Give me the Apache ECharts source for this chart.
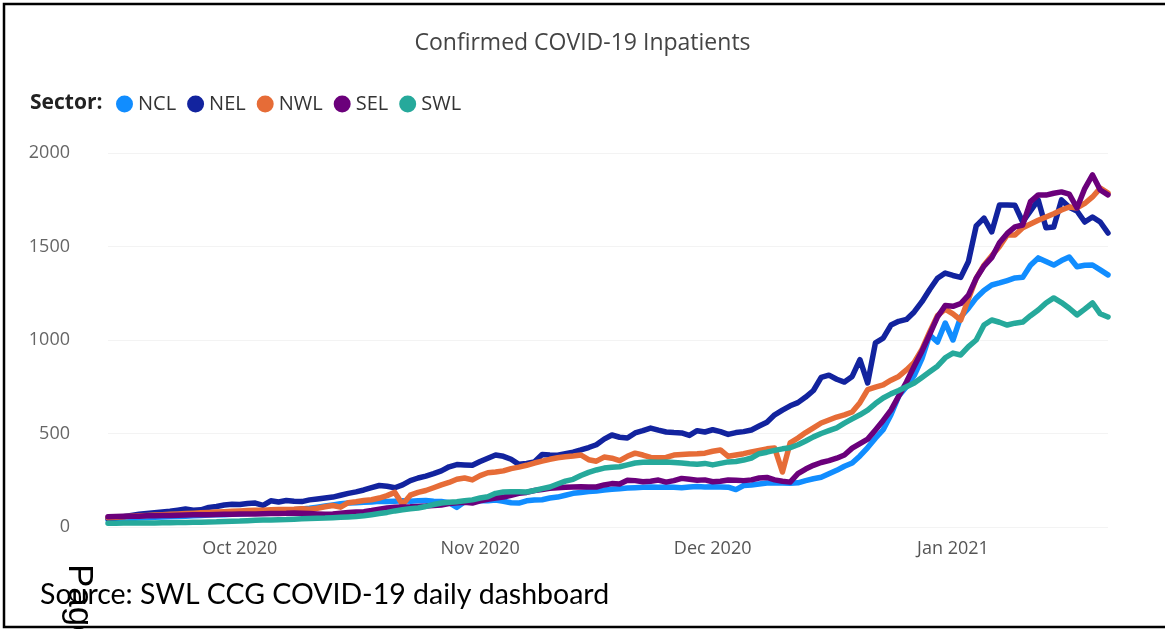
<!DOCTYPE html>
<html>
<head>
<meta charset="utf-8">
<script src="https://cdn.jsdelivr.net/npm/echarts@6/dist/echarts.min.js"></script>
<style>
html,body{margin:0;padding:0;background:#fff;}
#chart{width:1165px;height:629px;}
</style>
</head>
<body>
<div id="chart"></div>
<script>
// ---- Data (daily, starting 14 Sep 2020) ----
const startDate = '2020-09-14';
const sectors = ['NCL', 'NEL', 'NWL', 'SEL', 'SWL'];
const NCL = [40,42,44,46,48,50,52,53,55,56,
  58,60,62,64,65,66,68,70,72,75,
  78,80,84,88,92,96,100,106,112,118,
  124,128,130,132,134,138,136,138,140,138,
  140,142,138,136,130,105,135,140,142,140,
  144,138,130,128,140,144,146,155,160,170,
  180,185,190,193,198,202,205,208,210,212,
  214,212,214,212,210,214,216,214,215,214,
  213,200,222,225,230,235,236,235,234,236,
  248,258,266,285,303,325,342,380,425,475,
  520,600,700,750,810,900,1027,989,1091,1000,
  1123,1170,1225,1265,1294,1305,1318,1332,1335,1400,
  1439,1420,1401,1425,1444,1392,1400,1401,1375,1348];
const NEL = [45,50,55,62,68,72,76,80,84,90,
  96,90,92,105,110,118,122,120,126,128,
  116,140,134,142,138,136,145,150,155,160,
  170,180,188,198,210,222,218,210,225,248,
  262,272,285,300,322,334,332,330,350,368,
  385,378,362,335,340,348,388,385,384,392,
  400,412,425,440,470,492,480,476,503,515,
  529,518,508,505,503,490,515,508,520,510,
  495,505,510,519,540,560,600,625,648,665,
  695,730,800,812,790,775,805,895,770,985,
  1010,1080,1100,1110,1150,1205,1270,1330,1358,1345,
  1335,1420,1610,1652,1578,1722,1722,1720,1631,1690,
  1749,1600,1604,1749,1710,1690,1631,1658,1631,1572];
const NWL = [50,52,55,58,60,62,64,66,68,70,
  72,74,76,78,80,82,84,86,88,90,
  90,92,94,93,95,98,95,100,108,115,
  106,130,135,142,146,155,168,185,120,170,
  185,195,210,225,238,255,262,252,275,290,
  294,300,312,320,330,342,352,362,370,376,
  380,385,360,352,374,368,355,378,395,385,
  372,370,372,385,388,390,392,395,405,412,
  378,385,392,402,410,418,422,294,450,476,
  505,530,556,572,588,600,615,665,735,748,
  760,785,805,840,880,950,1043,1130,1165,1140,
  1107,1220,1330,1400,1450,1500,1562,1562,1600,1620,
  1640,1658,1675,1695,1711,1706,1730,1765,1812,1786];
const SEL = [55,56,57,58,58,60,60,62,62,63,
  64,65,65,66,67,68,68,70,70,70,
  71,72,72,73,75,74,72,70,68,70,
  74,78,80,82,88,95,102,105,107,108,
  110,112,115,118,125,130,132,128,140,148,
  155,160,170,180,185,195,200,207,210,212,
  214,215,214,214,225,232,230,250,248,242,
  245,251,240,248,260,255,250,252,242,245,
  251,250,248,252,262,265,252,245,240,285,
  310,330,345,355,368,385,422,446,470,519,
  570,625,700,775,860,940,1030,1123,1185,1180,
  1195,1240,1330,1395,1440,1520,1570,1605,1615,1740,
  1776,1775,1785,1792,1780,1706,1810,1883,1802,1776];
const SWL = [20,20,21,21,22,22,22,23,23,24,
  24,25,26,27,28,30,31,32,34,36,
  37,38,39,40,42,44,46,47,48,50,
  52,54,56,60,66,72,78,86,92,98,
  102,110,120,128,132,135,140,145,155,162,
  180,187,188,188,187,195,205,214,230,245,
  255,275,292,305,315,320,322,332,342,346,
  348,346,348,345,342,338,335,340,332,340,
  348,350,358,369,392,400,410,418,424,440,
  460,482,500,515,530,555,578,600,625,660,
  690,712,730,750,770,800,830,860,905,930,
  920,965,1000,1080,1107,1095,1080,1090,1096,1130,
  1160,1198,1225,1200,1170,1134,1165,1198,1140,1123];
const tickDates = ['2020-10-01', '2020-11-01', '2020-12-01', '2021-01-01'];
const tickLabels = ['Oct 2020', 'Nov 2020', 'Dec 2020', 'Jan 2021'];
const yTicks = [0, 500, 1000, 1500, 2000];
const colors = ['#118DFF', '#12239E', '#E66C37', '#6B007B', '#26A99B'];

// ---- Build categories ----
const dates = [];
(function () {
  const d0 = new Date(startDate + 'T00:00:00Z');
  for (let i = 0; i < NCL.length; i++) {
    const d = new Date(d0.getTime() + i * 86400000);
    dates.push(d.toISOString().slice(0, 10));
  }
})();
const seriesData = [NCL, NEL, NWL, SEL, SWL];

const chart = echarts.init(document.getElementById('chart'), null, {renderer: 'canvas'});
const option = {
  animation: false,
  backgroundColor: '#ffffff',
  color: colors,
  title: {
    text: 'Confirmed COVID-19 Inpatients',
    left: 'center',
    top: 27,
    textStyle: {fontFamily: 'Open Sans', fontSize: 23, fontWeight: 'normal', color: '#444'}
  },
  legend: {
    data: sectors,
    left: 116,
    top: 94,
    padding: 0,
    icon: 'circle',
    itemWidth: 17,
    itemHeight: 17,
    itemGap: 11,
    textStyle: {fontFamily: 'Open Sans', fontSize: 20, color: '#333'}
  },
  grid: {left: 108, right: 57, top: 153, bottom: 102, containLabel: false},
  xAxis: {
    type: 'category',
    data: dates,
    boundaryGap: false,
    axisLine: {show: false},
    axisTick: {show: false},
    splitLine: {show: false},
    axisLabel: {
      interval: function (idx, val) { return tickDates.indexOf(val) >= 0; },
      formatter: function (val) { const k = tickDates.indexOf(val); return k >= 0 ? tickLabels[k] : ''; },
      fontFamily: 'Open Sans', fontSize: 18, color: '#555', margin: 13
    }
  },
  yAxis: {
    type: 'value',
    min: yTicks[0],
    max: yTicks[yTicks.length - 1],
    interval: 500,
    axisLine: {show: false},
    axisTick: {show: false},
    splitLine: {lineStyle: {color: '#f3f3f3', width: 1}},
    axisLabel: {fontFamily: 'Open Sans', fontSize: 18, color: '#666', margin: 38,
      formatter: function (v) { return String(v); }}
  },
  series: sectors.map(function (name, k) {
    return {
      name: name,
      type: 'line',
      data: seriesData[k],
      showSymbol: false,
      symbol: 'none',
      lineStyle: {width: 5.5, color: colors[k], join: 'round', cap: 'round'},
      itemStyle: {color: colors[k]},
      emphasis: {disabled: true}
    };
  }),
  graphic: [
    {type: 'text', left: 30, top: 93,
     style: {text: 'Sector:', fontFamily: 'Open Sans', fontSize: 21, fontWeight: 'bold', fill: '#222'}},
    {type: 'text', x: 79, y: 564, rotation: -Math.PI / 2,
     style: {text: 'Page', fontFamily: 'Liberation Sans', fontSize: 35, fill: '#000', align: 'left', verticalAlign: 'middle'}},
    {type: 'text', left: 40, top: 580,
     style: {text: 'Source: SWL CCG COVID-19 daily dashboard', fontFamily: 'Lato', fontSize: 28.5, fill: '#000'}},
    {type: 'rect', shape: {x: 4, y: 4, width: 1180, height: 623},
     style: {fill: 'none', stroke: '#000', lineWidth: 2.5}, silent: true}
  ]
};
chart.setOption(option);
</script>
</body>
</html>
